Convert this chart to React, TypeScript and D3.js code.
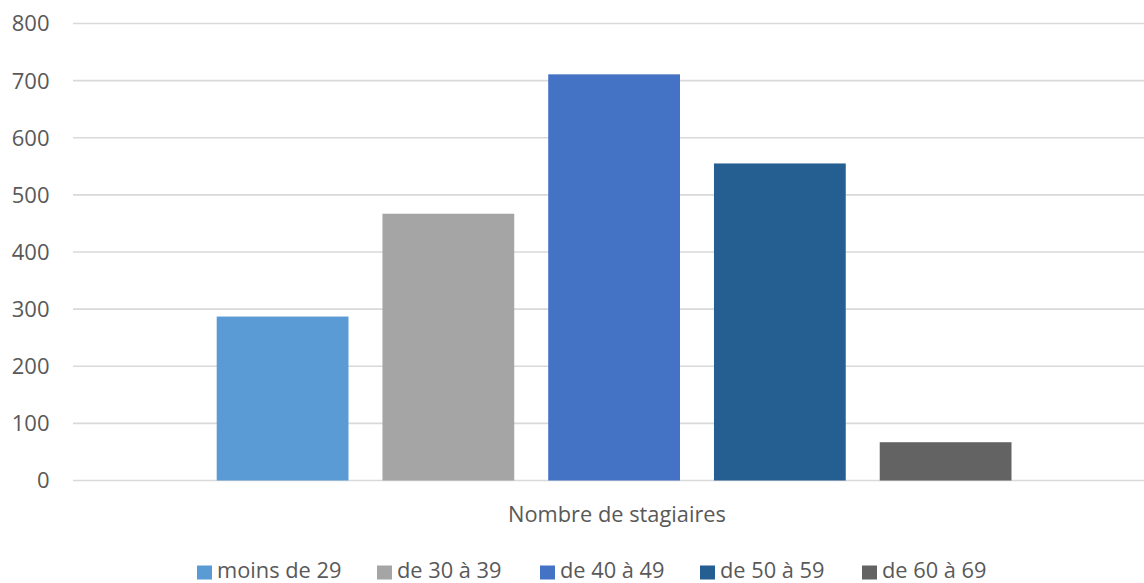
import React from "react";
import * as d3 from "d3";

const categories = ["moins de 29", "de 30 à 39", "de 40 à 49", "de 50 à 59", "de 60 à 69"];
const values = [287, 467, 711, 555, 67];
const colors = ["#5B9BD5", "#A5A5A5", "#4472C4", "#255E91", "#636363"];
const yTicks = [0, 100, 200, 300, 400, 500, 600, 700, 800];
const axisTitle = "Nombre de stagiaires";

const W = 1144;
const H = 583;
const FONT = "'Open Sans', sans-serif";

export default function App() {
  const y = d3.scaleLinear().domain([0, 800]).range([480.5, 23.5]);
  const x = d3.scaleBand<string>().domain(categories).range([216.7, 1011.5]).paddingInner(0.205);
  const legendX = [197, 377, 540, 700, 862];

  return (
    <svg width={W} height={H} style={{ position: "absolute", left: 0, top: 0, background: "#fff" }}>
      <rect width={W} height={H} fill="#fff" />
      {yTicks.map((t) => (
        <g key={t}>
          <line x1={73} x2={W} y1={y(t)} y2={y(t)} stroke="#d9d9d9" strokeWidth={1.6} />
          <text x={49.5} y={y(t)} dy="0.36em" textAnchor="end" fontFamily={FONT} fontSize={22} fill="#595959">
            {t}
          </text>
        </g>
      ))}
      {categories.map((c, i) => (
        <rect key={c} x={x(c)} y={y(values[i])} width={x.bandwidth()} height={y(0) - y(values[i])} fill={colors[i]} />
      ))}
      <text x={617} y={522} textAnchor="middle" fontFamily={FONT} fontSize={21.8} fill="#595959">
        {axisTitle}
      </text>
      {categories.map((c, i) => (
        <g key={"l" + c}>
          <rect x={legendX[i]} y={565.5} width={15} height={14} fill={colors[i]} />
          <text x={legendX[i] + 20} y={577.5} fontFamily={FONT} fontSize={21.8} fill="#595959">
            {c}
          </text>
        </g>
      ))}
    </svg>
  );
}
